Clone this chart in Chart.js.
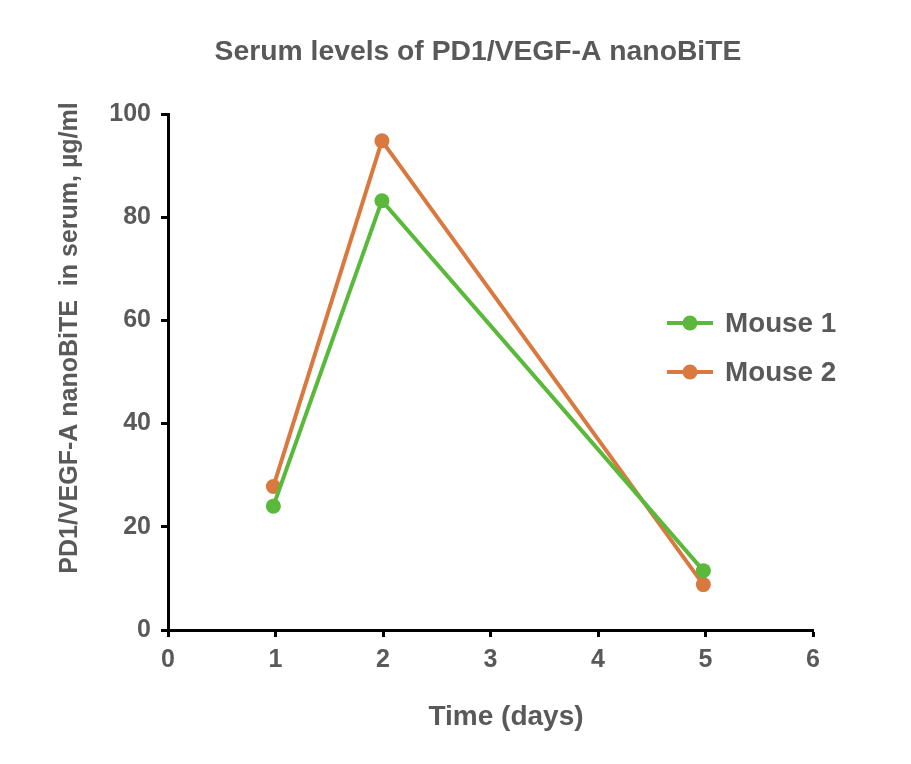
<!DOCTYPE html>
<html>
<head>
<meta charset="utf-8">
<script src="https://cdn.jsdelivr.net/npm/chart.js@4"></script>
<style>
  html, body { margin: 0; padding: 0; background: #fff; }
  #wrap { width: 911px; height: 764px; }
</style>
</head>
<body>
<div id="wrap"><canvas id="serumChart"></canvas></div>
<script>
// Data
const days = [0.98, 1.99, 4.98];
const mouse1 = [24.0, 83.2, 11.5];
const mouse2 = [27.8, 94.8, 8.8];
const xTicks = [0, 1, 2, 3, 4, 5, 6];
const yTicks = [0, 20, 40, 60, 80, 100];

const GREEN = 'rgb(90, 185, 58)';
const ORANGE = 'rgb(217, 121, 64)';
const TEXT = 'rgb(89, 89, 89)';
const FONT = '"Liberation Sans", Arial, sans-serif';

function toPoints(xs, ys) {
  return xs.map((x, i) => ({ x: x, y: ys[i] }));
}

// Titles and the legend are drawn by hand so they can sit where the original has them
const extras = {
  id: 'extras',
  afterDraw(chart) {
    const ctx = chart.ctx;
    ctx.save();
    ctx.fillStyle = TEXT;
    ctx.textAlign = 'center';
    ctx.textBaseline = 'middle';

    ctx.font = 'bold 28.3px ' + FONT;
    ctx.fillText('Serum levels of PD1/VEGF-A nanoBiTE', 478, 52);
    ctx.font = 'bold 28px ' + FONT;
    ctx.fillText('Time (days)', 506, 717);

    ctx.save();
    ctx.translate(70, 338);
    ctx.rotate(-Math.PI / 2);
    ctx.font = 'bold 25px ' + FONT;
    ctx.fillText('PD1/VEGF-A nanoBiTE  in serum, µg/ml', 0, 0);
    ctx.restore();

    // legend
    chart.data.datasets.forEach((ds, i) => {
      const y = 323 + i * 49;
      ctx.strokeStyle = ds.borderColor;
      ctx.lineWidth = 4;
      ctx.beginPath();
      ctx.moveTo(667, y);
      ctx.lineTo(713, y);
      ctx.stroke();
      ctx.fillStyle = ds.backgroundColor;
      ctx.beginPath();
      ctx.arc(690, y, 7.5, 0, Math.PI * 2);
      ctx.fill();
      ctx.fillStyle = TEXT;
      ctx.textAlign = 'left';
      ctx.font = 'bold 27.8px ' + FONT;
      ctx.fillText(ds.label, 725, y + 1);
    });
    ctx.restore();
  }
};

new Chart(document.getElementById('serumChart'), {
  type: 'line',
  data: {
    datasets: [
      {
        label: 'Mouse 1',
        data: toPoints(days, mouse1),
        borderColor: GREEN,
        backgroundColor: GREEN,
        borderWidth: 4,
        pointRadius: 7.5,
        pointHoverRadius: 7.5,
        pointBorderWidth: 0,
        tension: 0
      },
      {
        label: 'Mouse 2',
        data: toPoints(days, mouse2),
        borderColor: ORANGE,
        backgroundColor: ORANGE,
        borderWidth: 4,
        pointRadius: 7.5,
        pointHoverRadius: 7.5,
        pointBorderWidth: 0,
        tension: 0
      }
    ]
  },
  options: {
    responsive: true,
    maintainAspectRatio: false,
    animation: false,
    layout: { padding: { left: 0, right: 98, top: 114, bottom: 0 } },
    plugins: {
      legend: { display: false },
      title: { display: false },
      tooltip: { enabled: false }
    },
    scales: {
      x: {
        type: 'linear',
        min: 0,
        max: 6,
        afterBuildTicks(scale) { scale.ticks = xTicks.map(v => ({ value: v })); },
        afterFit(scale) { scale.height = 134; },
        border: { display: true, color: '#000', width: 3 },
        grid: { drawOnChartArea: false, drawTicks: true, tickLength: 7, tickWidth: 3, color: '#000' },
        ticks: { color: TEXT, font: { family: FONT, size: 25, weight: 'bold' }, padding: 8 }
      },
      y: {
        type: 'linear',
        min: 0,
        max: 100,
        afterBuildTicks(scale) { scale.ticks = yTicks.map(v => ({ value: v })); },
        afterFit(scale) { scale.width = 168; },
        border: { display: true, color: '#000', width: 3 },
        grid: { drawOnChartArea: false, drawTicks: true, tickLength: 7, tickWidth: 3, color: '#000' },
        ticks: { color: TEXT, font: { family: FONT, size: 25, weight: 'bold' }, padding: 10 }
      }
    }
  },
  plugins: [extras]
});
</script>
</body>
</html>
